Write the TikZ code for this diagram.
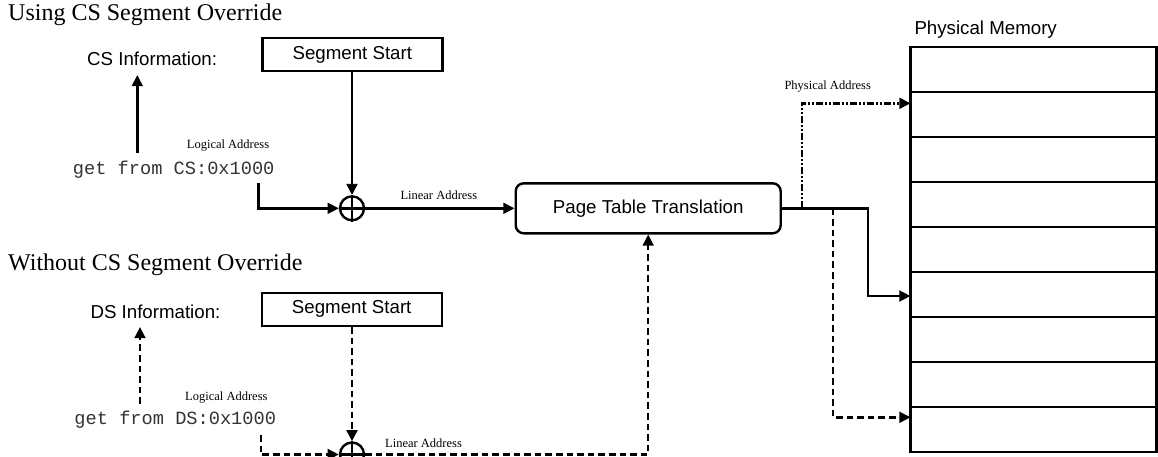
\documentclass[tikz,border=0pt]{standalone}
\usepackage{fontspec}
\setmainfont{Liberation Serif}
\setsansfont{Liberation Sans}
\setmonofont{Liberation Mono}
\usetikzlibrary{arrows.meta}

\begin{document}
\begin{tikzpicture}[x=0.5pt,y=-0.5pt,
  line width=1.2pt,
  tip/.style={-{Triangle[length=5.6pt,width=5.4pt]}},
  dsh/.style={dash pattern=on 3.3pt off 2pt},
  dashdotdot/.style={dash pattern=on 3.5pt off 1pt on 1pt off 1pt on 1pt off 1pt},
  title/.style={font=\fontsize{12pt}{14pt}\selectfont, inner sep=0pt, anchor=base west},
  lbl/.style={font=\sffamily\fontsize{9.35pt}{11pt}\selectfont, inner sep=0pt, anchor=base west},
  small/.style={font=\fontsize{6.25pt}{7.5pt}\selectfont, inner sep=0pt, anchor=base west},
  code/.style={font=\ttfamily\fontsize{9.33pt}{11pt}\selectfont, text=black!80, inner sep=0pt, anchor=base west},
  segbox/.style={draw, rectangle, minimum width=90pt, minimum height=16.5pt, inner sep=0pt,
    font=\sffamily\fontsize{9.35pt}{11pt}\selectfont},
  pttbox/.style={draw, rectangle, rounded corners=4pt, minimum width=132.5pt, minimum height=25pt,
    inner sep=0pt, font=\sffamily\fontsize{9.35pt}{11pt}\selectfont},
  adder/.style={draw, circle, minimum size=12pt, inner sep=0pt},
  memrow/.style={draw, rectangle, minimum width=123pt, minimum height=22.5pt, inner sep=0pt},
]
\useasboundingbox (0,0) rectangle (1158,456);
\clip (0,0) rectangle (1158,456);

% headings and labels
\node[title] (t1) at (7,20) {Using CS Segment Override};
\node[title] (t2) at (7,270.7) {Without CS Segment Override};
\node[lbl] (csinfo) at (86,65) {CS Information:};
\node[lbl] (dsinfo) at (89.3,318.3) {DS Information:};
\node[code] (cs) at (71.7,174) {get from CS:0x1000};
\node[code] (ds) at (73.3,424.7) {get from DS:0x1000};
\node[small] (la1) at (185.7,148) {Logical Address};
\node[small] (la2) at (184,400) {Logical Address};
\node[small] (lin1) at (399.3,199) {Linear Address};
\node[small] (lin2) at (384,447) {Linear Address};
\node[small] (pa) at (783.3,89) {Physical Address};
\node[lbl] (pm) at (913.3,34) {Physical Memory};

% boxes and adders
\node[segbox] (seg1) at (352.3,54.6) {Segment Start};
\node[segbox] (seg2) at (351.7,309.2) {Segment Start};
\node[adder] (add1) at (352,208.3) {};
\node[adder] (add2) at (352,454.5) {};
\draw (add1.north) -- (add1.south) (add1.west) -- (add1.east);
\draw (add2.north) -- (add2.south) (add2.west) -- (add2.east);
\node[pttbox] (ptt) at (648.2,208.3) {Page Table Translation};

% physical memory frames
\foreach \i in {1,...,9}
  \node[memrow] (r\i) at (1033.5,{24.5+45*\i}) {};

% bend and end points
\coordinate (up1s) at (137.3,153);
\coordinate (up1e) at (137.3,75);
\coordinate (up2s) at (140,404);
\coordinate (up2e) at (140,327);
\coordinate (c1) at (258.3,183);
\coordinate (c2) at (260.7,435);
\coordinate (j1) at (801.7,208.3);
\coordinate (j2) at (833,208.3);
\coordinate (j3) at (868,208.3);
\coordinate (m1) at (910.5,103.3);
\coordinate (m2) at (910.5,296);
\coordinate (m3) at (910.5,417.3);

% with CS override (solid)
\draw[tip] (up1s) -- (up1e);
\draw[tip] (seg1.south -| add1) -- (add1.north);
\draw[tip] (c1) |- (add1.west);
\draw[tip] (add1.east) -- (ptt.west);

% without CS override (dashed)
\draw[dsh,tip] (up2s) -- (up2e);
\draw[dsh,tip] (seg2.south -| add2) -- (add2.north);
\draw[dsh,tip] (c2) |- (add2.west);
\draw[dsh,tip] (add2.east) -| (ptt.south);

% physical address outputs
\draw[tip] (ptt.east) -- (j3) |- (m2);
\draw[dashdotdot,tip] (j1) |- (m1);
\draw[dsh,tip] (j2) |- (m3);
\end{tikzpicture}
\end{document}
